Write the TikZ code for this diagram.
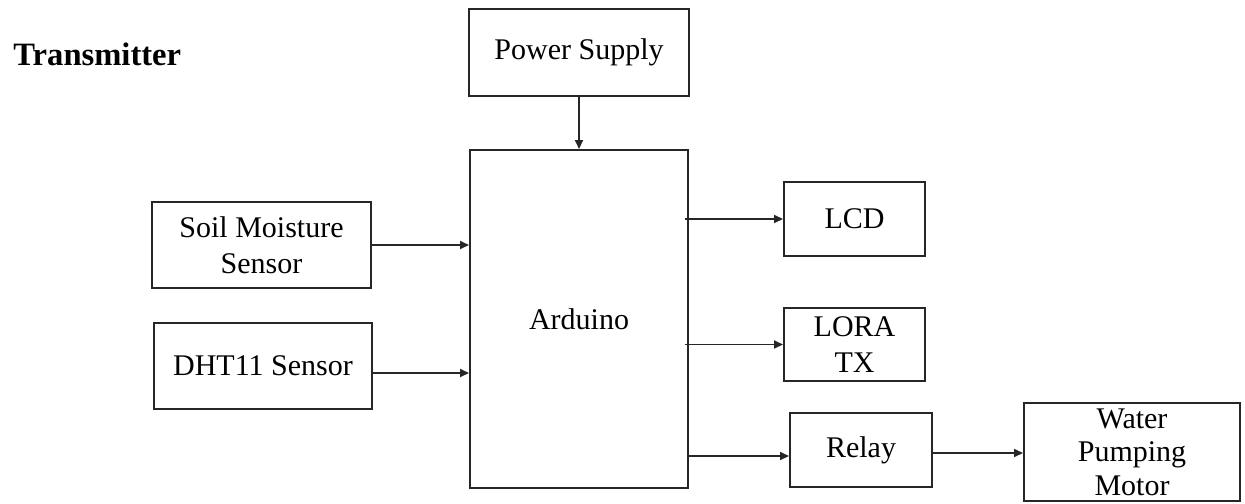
\documentclass[tikz,border=0pt]{standalone}
\usepackage{fontspec}
\setmainfont{Liberation Serif}
\usepackage{tikz}
\usetikzlibrary{arrows.meta,positioning}

\begin{document}
\begin{tikzpicture}[
      font=\fontsize{15}{18}\selectfont,
      blk/.style={draw=black!85, line width=1pt, align=center, inner sep=2pt},
      arr/.style={-{Triangle[length=4.5pt, width=4pt]}, line width=0.9pt, draw=black!85},
      ttl/.style={font=\fontsize{16.3}{19}\selectfont\bfseries, inner sep=0pt, anchor=west},
    ]
    \useasboundingbox (0,0) rectangle (622.5pt,-251.5pt);
    \node[ttl] (title) at (6.5pt,-27pt) {Transmitter};

    % controller and its supply
    \node[blk, minimum width=109pt, minimum height=169pt] (ard) at (289.5pt,-159.5pt) {Arduino};
    \node[blk, minimum width=110pt, minimum height=43.5pt, above=26pt of ard] (pwr) {Power Supply};
    \draw[arr] (pwr) -- (ard);

    % sensor inputs
    \node[blk, minimum width=109.5pt, minimum height=43pt, above left=15pt and 48.5pt of ard.west] (soil)
      {Soil Moisture\\Sensor};
    \node[blk, minimum width=109pt, minimum height=43pt, below left=1.5pt and 48pt of ard.west] (dht)
      {DHT11 Sensor};
    \draw[arr] (soil.east) -- (soil.east -| ard.west);
    \draw[arr] ([yshift=-3.5pt]dht.east) -- ([yshift=-3.5pt]dht.east -| ard.west);

    % outputs
    \node[blk, minimum width=70.5pt, minimum height=37pt, below right=16pt and 47pt of ard.north east] (lcd) {LCD};
    \node[blk, minimum width=70.5pt, minimum height=36.5pt, below=25pt of lcd] (lora) {LORA\\TX};
    \node[blk, minimum width=71pt, minimum height=37pt, below=15pt of lora, xshift=3.25pt] (relay) {Relay};
    \node[blk, minimum width=108pt, minimum height=49pt, inner ysep=0pt, font=\fontsize{15}{16.8}\selectfont,
      right=45pt of relay, yshift=-1pt] (pump)
      {Water\\Pumping\\Motor};
    \draw[arr] ([xshift=-2pt]lcd.west -| ard.east) -- (lcd.west);
    \draw[arr] ([xshift=-2pt]lora.west -| ard.east) -- (lora.west);
    \draw[arr] ([yshift=-3pt]relay.west -| ard.east) -- ([yshift=-3pt]relay.west);
    \draw[arr] ([yshift=-1.5pt]relay.east) -- ([yshift=-1.5pt]relay.east -| pump.west);
  \end{tikzpicture}
\end{document}
